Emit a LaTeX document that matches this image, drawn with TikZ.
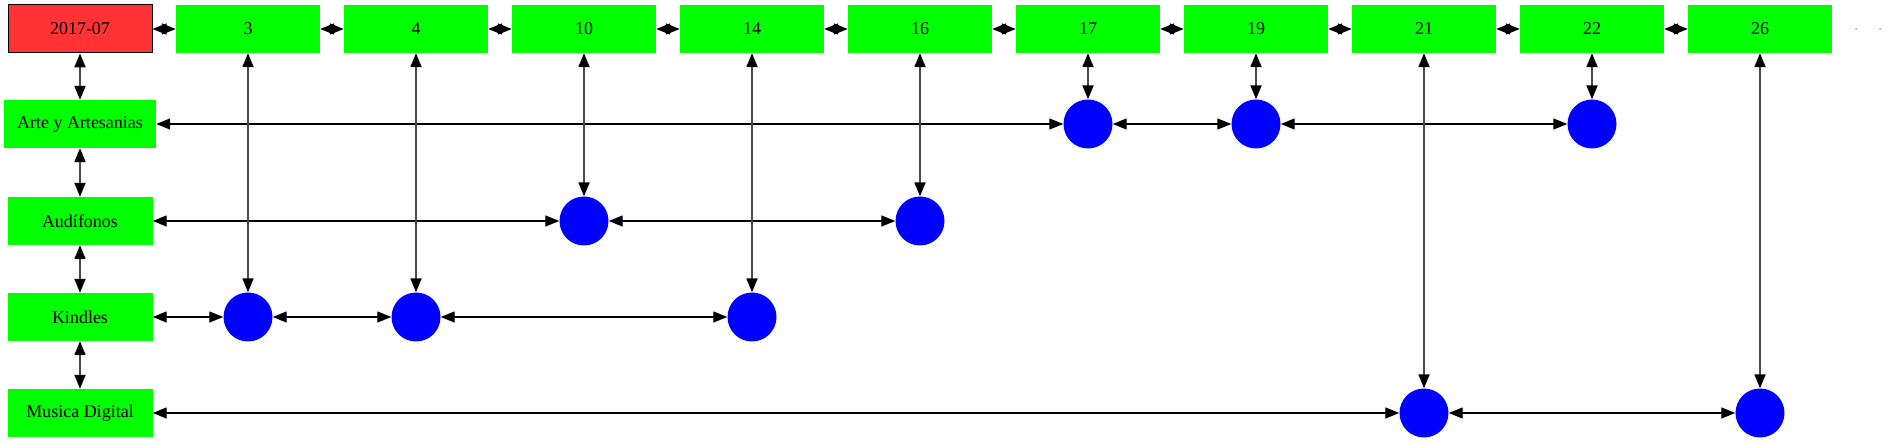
\documentclass[tikz,border=0pt]{standalone}
\usepackage{fontspec}
\setmainfont{Liberation Serif}
\usetikzlibrary{arrows.meta}
\definecolor{boxgreen}{RGB}{0,255,0}
\definecolor{monthred}{RGB}{255,51,51}

\begin{document}
\begin{tikzpicture}[x=1pt,y=-1pt,
		catbox/.style={fill=boxgreen, minimum width=145pt, minimum height=48pt, inner sep=0pt, font=\fontsize{18}{20}\selectfont},
		hit/.style={circle, fill=blue, minimum size=49pt, inner sep=0pt},
		link/.style={{Triangle[length=14pt,width=11pt,color=black]}-{Triangle[length=14pt,width=11pt,color=black]}, draw=black, line width=1.3pt},
		vlink/.style={link, draw=black!70, line width=2pt}]
		\useasboundingbox (0,0) rectangle (1887,443);
		% top row: month and days
		\node[catbox, fill=monthred, draw=black, line width=1pt, minimum width=144pt] (m) at (80,29) {2017-07};
		\foreach \n [count=\i] in {3,4,10,14,16,17,19,21,22,26}
			\node[catbox, minimum width=144pt] (t\n) at (80+168*\i,29) {\n};
		\draw[link] (m) -- (t3);
		\foreach \a/\b in {3/4,4/10,10/14,14/16,16/17,17/19,19/21,21/22,22/26}
			\draw[link] (t\a) -- (t\b);
		\fill[black!40] (1856,29) circle (1pt);
		\fill[black!40] (1880,29) circle (1pt);
		% left column: categories
		\node[catbox, minimum width=152pt] (arte) at (80,124) {Arte y Artesanias};
		\node[catbox] (aud) at (80,221) {Audífonos};
		\node[catbox] (kin) at (80,317) {Kindles};
		\node[catbox] (mus) at (80,413) {Musica Digital};
		\draw[vlink] (m) -- (arte);
		\draw[vlink] (arte) -- (aud);
		\draw[vlink] (aud) -- (kin);
		\draw[vlink] (kin) -- (mus);
		% hits
		\node[hit] (c17) at (1088,124) {};
		\node[hit] (c19) at (1256,124) {};
		\node[hit] (c22) at (1592,124) {};
		\node[hit] (c10) at (584,221) {};
		\node[hit] (c16) at (920,221) {};
		\node[hit] (c3) at (248,317) {};
		\node[hit] (c4) at (416,317) {};
		\node[hit] (c14) at (752,317) {};
		\node[hit] (c21) at (1424,413) {};
		\node[hit] (c26) at (1760,413) {};
		\draw[link] (arte) -- (c17);
		\draw[link] (c17) -- (c19);
		\draw[link] (c19) -- (c22);
		\draw[link] (aud) -- (c10);
		\draw[link] (c10) -- (c16);
		\draw[link] (kin) -- (c3);
		\draw[link] (c3) -- (c4);
		\draw[link] (c4) -- (c14);
		\draw[link] (mus) -- (c21);
		\draw[link] (c21) -- (c26);
		\foreach \n in {3,4,10,14,16,17,19,21,22,26}
			\draw[vlink] (t\n) -- (c\n);
	\end{tikzpicture}
\end{document}
